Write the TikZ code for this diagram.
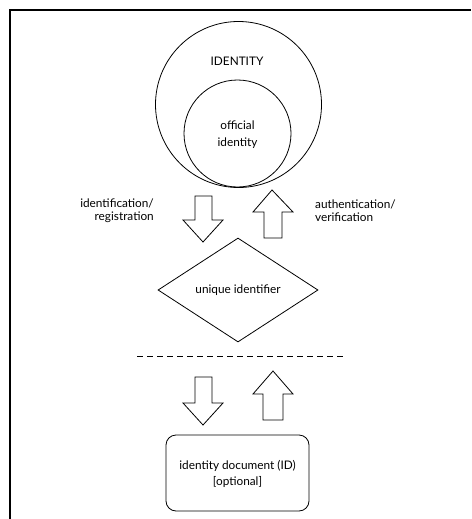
\documentclass[tikz,border=0pt]{standalone}
\usepackage{fontspec}
\setmainfont{Lato}
\usetikzlibrary{shapes.geometric}
\tikzset{
  thin line/.style={line width=0.8pt, draw=black},
  lbl/.style={font=\fontsize{11.8}{13}\selectfont, inner sep=0pt},
  blockarrow/.style={line width=0.8pt, draw=black, fill=white, line join=miter},
}
\begin{document}
\begin{tikzpicture}[x=1pt,y=-1pt]
  \useasboundingbox (0,0) rectangle (471,519);
  % frame (top and left edges)
  \draw[line width=2pt] (10,519) -- (10,10) -- (471,10);

  % identity circles
  \node[thin line, circle, minimum size=166pt, inner sep=0pt] (identity) at (238.5,104.5) {};
  \node[thin line, circle, minimum size=107pt, inner sep=0pt] (official) at (237.5,133.5) {};
  \node[lbl] (idtext) at (237,61) {IDENTITY};
  \node[lbl, align=center, font=\fontsize{11.8}{17}\selectfont] (offtext) at (237.5,134.5) {official\\identity};

  % upper block arrows
  \draw[blockarrow] (195,196) -- (212,196) -- (212,220) -- (223,220) -- (203,242) -- (183,220) -- (195,220) -- cycle;
  \draw[blockarrow] (264,238) -- (282,238) -- (282,212) -- (293,212) -- (272,190) -- (253,212) -- (264,212) -- cycle;
  \node[lbl, align=right, anchor=east, font=\fontsize{11.8}{13.5}\selectfont] (idreg) at (154,210.5) {identification/\\registration};
  \node[lbl, align=left, anchor=west, font=\fontsize{11.8}{13.5}\selectfont] (authver) at (315,210.5) {authentication/\\verification};

  % unique identifier diamond
  \node[thin line, diamond, minimum width=160pt, minimum height=104pt, inner sep=0pt] (uid) at (238,290) {};
  \node[lbl] (uidtext) at (238,290) {unique identifier};

  % dashed separator
  \coordinate (sepL) at (137,356);
  \coordinate (sepR) at (343,356);
  \draw[thin line, dash pattern=on 6pt off 4pt] (sepL) -- (sepR);

  % lower block arrows
  \draw[blockarrow] (195,377) -- (212,377) -- (212,403) -- (223,403) -- (203,425) -- (183,403) -- (195,403) -- cycle;
  \draw[blockarrow] (263,420) -- (283,420) -- (283,394) -- (293,394) -- (273,371) -- (253,394) -- (263,394) -- cycle;

  % identity document box
  \node[thin line, rounded corners=10pt, minimum width=143pt, minimum height=76pt, inner sep=0pt] (doc) at (237.5,473) {};
  \node[lbl, align=center, font=\fontsize{11.8}{16}\selectfont] (doctext) at (237.5,474) {identity document (ID)\\{}[optional]};
\end{tikzpicture}
\end{document}
